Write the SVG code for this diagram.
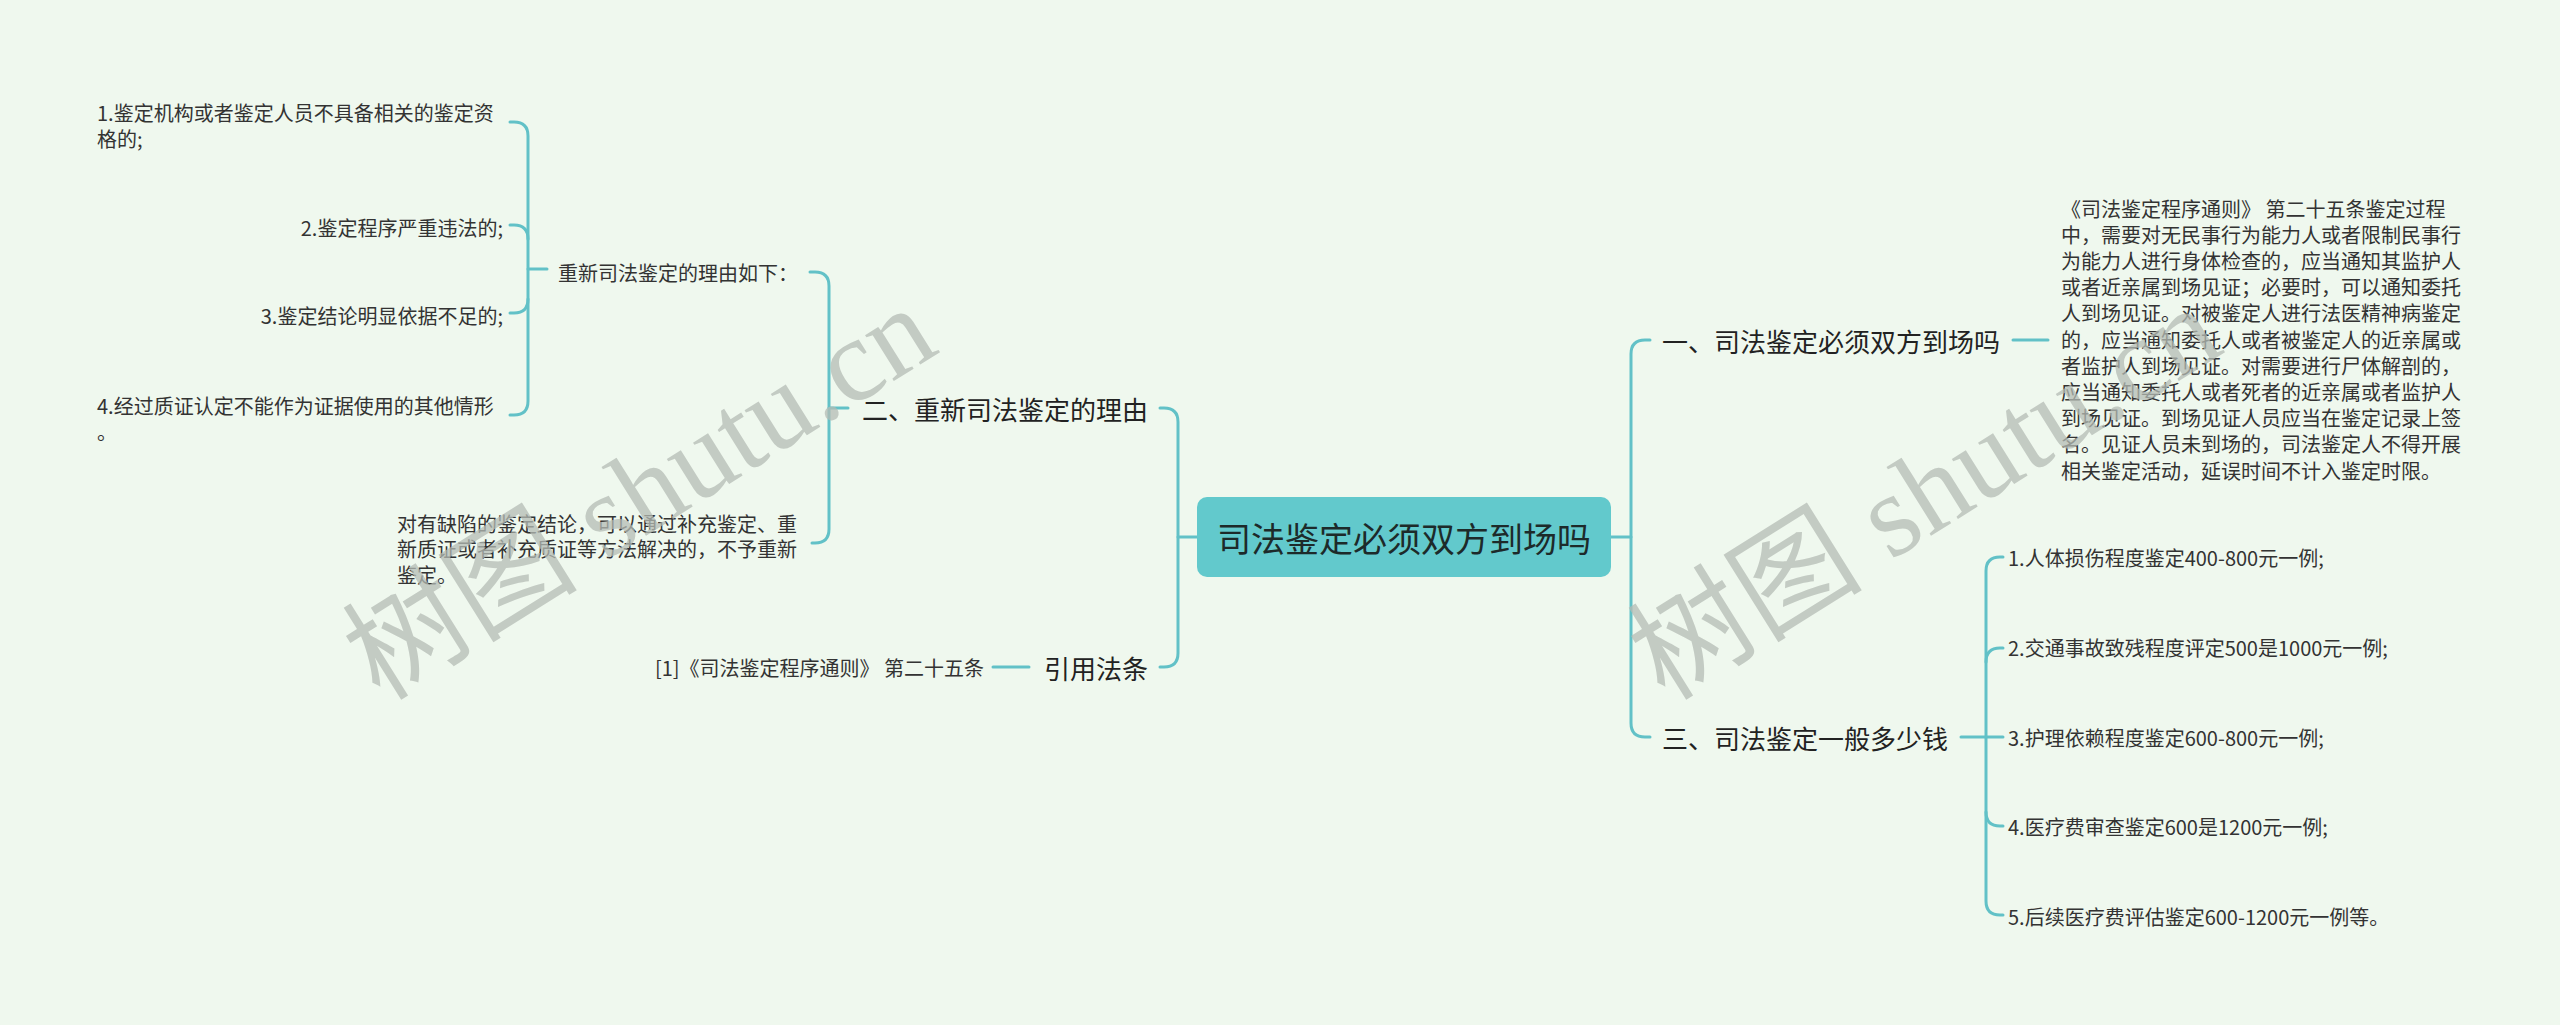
<svg xmlns="http://www.w3.org/2000/svg" width="2560" height="1025" viewBox="0 0 2560 1025">
<style>
.bg{fill:#eff8ee}
.c{fill:none;stroke:#62c1c7;stroke-width:3;stroke-linecap:round}
text{font-family:"Noto Sans CJK SC","Noto Sans",sans-serif;dominant-baseline:central}
.root{font-size:34px;fill:#1d2a2a}
.b{font-size:26px;fill:#222}
.s{font-size:20px;fill:#333}
.wm{font-family:"Liberation Serif","Noto Sans CJK SC",serif;font-size:118px;fill:#b5bcb5;opacity:0.75;dominant-baseline:alphabetic}
</style>
<rect class="bg" x="0" y="0" width="2560" height="1025"/>
<g id="connectors">
<path class="c" d="M1611,537 H1631"/>
<path class="c" d="M1650,340 H1645 Q1631,340 1631,354 V723 Q1631,737 1645,737 H1650"/>
<path class="c" d="M2013,340 H2048"/>
<path class="c" d="M1961,737 H1986"/>
<path class="c" d="M2003,557 H2000 Q1986,557 1986,571 V901 Q1986,915 2000,915 H2003"/>
<path class="c" d="M1986,662 Q1986,648 2000,648 H2003"/>
<path class="c" d="M1986,737 H2003"/>
<path class="c" d="M1986,812 Q1986,826 2000,826 H2003"/>
<path class="c" d="M1197,537 H1178"/>
<path class="c" d="M1160,408 H1164 Q1178,408 1178,422 V653 Q1178,667 1164,667 H1160"/>
<path class="c" d="M848,408 H829"/>
<path class="c" d="M810,272 H815 Q829,272 829,286 V529 Q829,543 815,543 H812"/>
<path class="c" d="M547,269 H528"/>
<path class="c" d="M510,122 H514 Q528,122 528,136 V401 Q528,415 514,415 H510"/>
<path class="c" d="M528,239 Q528,225 514,225 H510"/>
<path class="c" d="M528,299 Q528,313 514,313 H510"/>
<path class="c" d="M1029,667 H993"/>
</g>
<g id="root">
<rect x="1197" y="497" width="414" height="80" rx="10" fill="#62c9cc"/>
<text class="root" x="1404" y="537" text-anchor="middle">司法鉴定必须双方到场吗</text>
</g>
<g id="n1">
<text class="b" x="1662" y="340">一、司法鉴定必须双方到场吗</text>
</g>
<g id="n1-detail">
<text class="s" x="2061" y="208">《司法鉴定程序通则》 第二十五条鉴定过程</text>
<text class="s" x="2061" y="234.2">中，需要对无民事行为能力人或者限制民事行</text>
<text class="s" x="2061" y="260.4">为能力人进行身体检查的，应当通知其监护人</text>
<text class="s" x="2061" y="286.6">或者近亲属到场见证；必要时，可以通知委托</text>
<text class="s" x="2061" y="312.8">人到场见证。对被鉴定人进行法医精神病鉴定</text>
<text class="s" x="2061" y="339">的，应当通知委托人或者被鉴定人的近亲属或</text>
<text class="s" x="2061" y="365.2">者监护人到场见证。对需要进行尸体解剖的，</text>
<text class="s" x="2061" y="391.4">应当通知委托人或者死者的近亲属或者监护人</text>
<text class="s" x="2061" y="417.6">到场见证。到场见证人员应当在鉴定记录上签</text>
<text class="s" x="2061" y="443.8">名。见证人员未到场的，司法鉴定人不得开展</text>
<text class="s" x="2061" y="470">相关鉴定活动，延误时间不计入鉴定时限。</text>
</g>
<g id="n3">
<text class="b" x="1662" y="737">三、司法鉴定一般多少钱</text>
</g>
<g id="n3-1"><text class="s" x="2008" y="557">1.人体损伤程度鉴定400-800元一例;</text></g>
<g id="n3-2"><text class="s" x="2008" y="647">2.交通事故致残程度评定500是1000元一例;</text></g>
<g id="n3-3"><text class="s" x="2008" y="737">3.护理依赖程度鉴定600-800元一例;</text></g>
<g id="n3-4"><text class="s" x="2008" y="826">4.医疗费审查鉴定600是1200元一例;</text></g>
<g id="n3-5"><text class="s" x="2008" y="916">5.后续医疗费评估鉴定600-1200元一例等。</text></g>
<g id="n2">
<text class="b" x="1148" y="408" text-anchor="end">二、重新司法鉴定的理由</text>
</g>
<g id="n2-1">
<text class="s" x="558" y="272">重新司法鉴定的理由如下：</text>
</g>
<g id="n2-1-1">
<text class="s" x="97" y="112">1.鉴定机构或者鉴定人员不具备相关的鉴定资</text>
<text class="s" x="97" y="138">格的;</text>
</g>
<g id="n2-1-2"><text class="s" x="503" y="227" text-anchor="end">2.鉴定程序严重违法的;</text></g>
<g id="n2-1-3"><text class="s" x="503" y="315" text-anchor="end">3.鉴定结论明显依据不足的;</text></g>
<g id="n2-1-4">
<text class="s" x="97" y="405">4.经过质证认定不能作为证据使用的其他情形</text>
<text class="s" x="97" y="431">。</text>
</g>
<g id="n2-2">
<text class="s" x="397" y="523">对有缺陷的鉴定结论，可以通过补充鉴定、重</text>
<text class="s" x="397" y="548.5">新质证或者补充质证等方法解决的，不予重新</text>
<text class="s" x="397" y="574">鉴定。</text>
</g>
<g id="n4">
<text class="b" x="1148" y="667" text-anchor="end">引用法条</text>
</g>
<g id="n4-1">
<text class="s" x="984" y="667" text-anchor="end">[1]《司法鉴定程序通则》 第二十五条</text>
</g>
<g id="watermarks">
<text class="wm" transform="translate(380,702) rotate(-32)">树图 shutu.cn</text>
<text class="wm" transform="translate(1665,702) rotate(-32)">树图 shutu.cn</text>
</g>
</svg>
